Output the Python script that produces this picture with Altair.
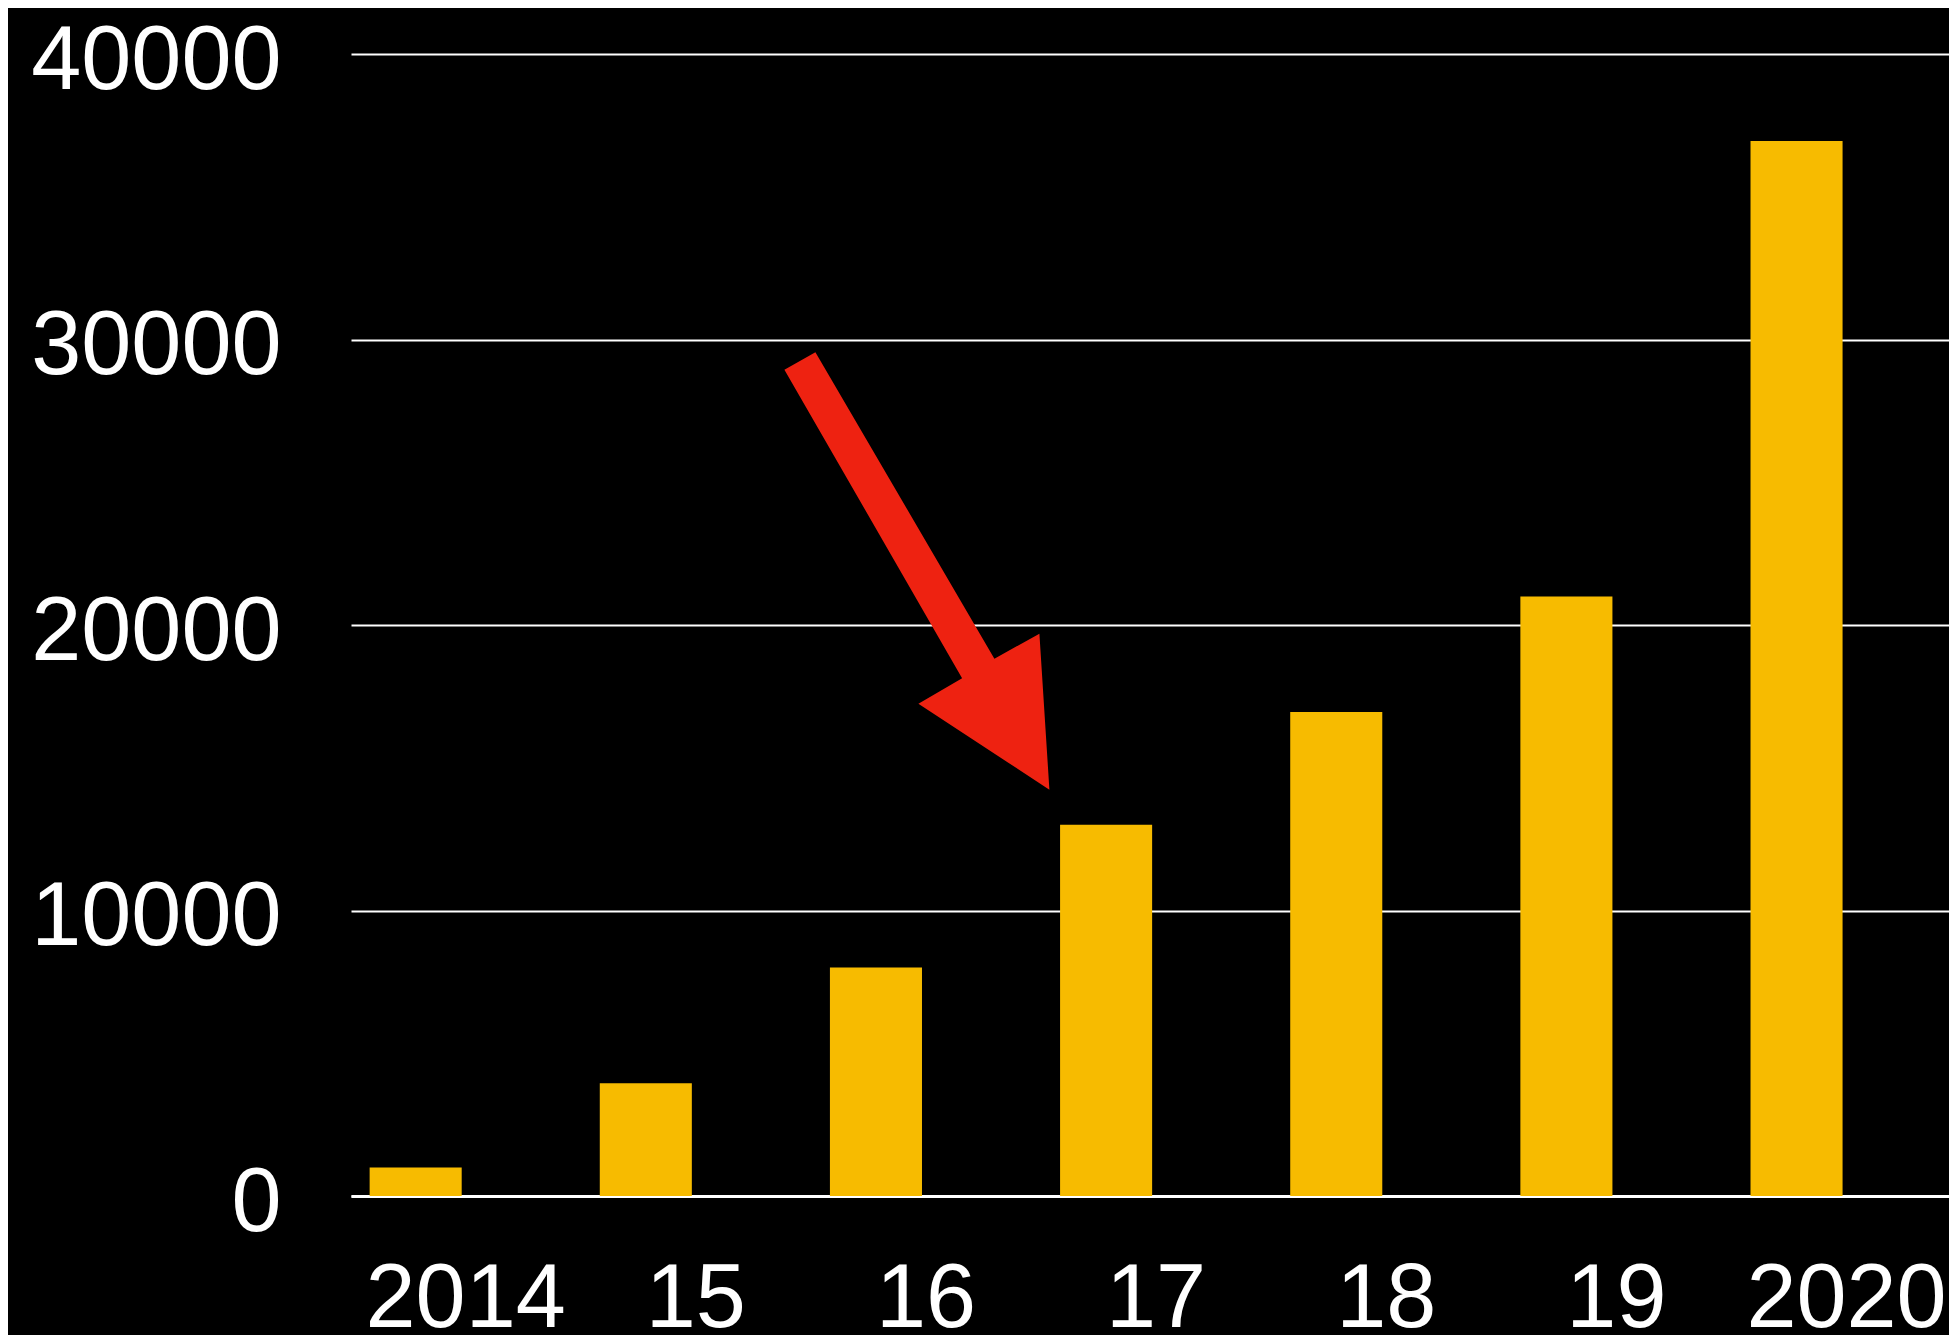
import altair as alt
import pandas as pd

# --- data ---
years = ["2014", "15", "16", "17", "18", "19", "2020"]
users = [1000, 3950, 8000, 13000, 16950, 21000, 36950]
y_ticks = [0, 10000, 20000, 30000, 40000]
arrow_year = ["17"]          # the arrow points at the 2017 bar
arrow_value = [14230]        # value level of the arrow tip

bars_df = pd.DataFrame({"year": years, "users": users})
arrow_df = pd.DataFrame({"year": arrow_year, "users": arrow_value})

FONT = "Liberation Sans"
BAR_COLOR = "#F7BB00"
ARROW_COLOR = "#EE2211"

# arrow outline, in symbol units (anchor = band centre of the target bar)
ARROW_PATH = ("M -0.6434 -0.84 L -0.5814 -0.8752 L -0.2234 -0.262 L -0.1334 -0.312 "
              "L -0.1134 0 L -0.3754 -0.172 L -0.288 -0.2232 Z")

x_enc = alt.X(
    "year:N",
    sort=None,
    scale=alt.Scale(domain=years, paddingInner=0.6, paddingOuter=0.2717, align=0.149),
    axis=alt.Axis(
        title=None, labelAngle=0, labelFontSize=90, labelFont=FONT,
        labelColor="white", labelOffset=50, labelPadding=59,
        ticks=False, tickSize=0, domainColor="white", domainWidth=3,
        grid=False, labelLimit=600,
    ),
)

y_enc = alt.Y(
    "users:Q",
    scale=alt.Scale(domain=[0, 40000], nice=False),
    axis=alt.Axis(
        title=None, values=y_ticks, format="d", labelFontSize=90,
        labelFont=FONT, labelColor="white", labelPadding=70,
        ticks=False, tickSize=0, domain=False, gridColor="white",
        gridWidth=2, labelOffset=7, labelLimit=600,
    ),
)

bars = alt.Chart(bars_df).mark_bar(color=BAR_COLOR).encode(x=x_enc, y=y_enc)

arrow = alt.Chart(arrow_df).mark_point(
    shape=ARROW_PATH, size=1000000, filled=True, color=ARROW_COLOR,
    opacity=1, strokeWidth=0,
).encode(
    x=alt.X("year:N", sort=None),
    y=alt.Y("users:Q"),
)

chart = alt.layer(bars, arrow).properties(
    width=1598,
    height=1142,
    padding={"left": 343, "top": 46, "right": 0, "bottom": 139},
    autosize=alt.AutoSizeParams(type="none"),
    background="black",
).configure_view(strokeWidth=0)

chart.save("out.html", embed_options={"renderer": "svg", "actions": False})
